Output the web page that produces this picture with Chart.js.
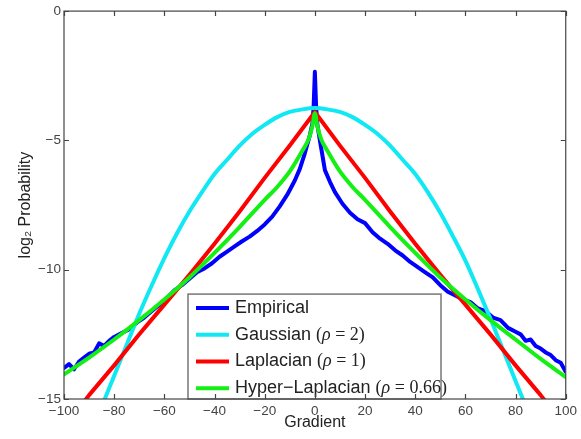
<!DOCTYPE html>
<html>
<head>
<meta charset="utf-8">
<script src="https://cdn.jsdelivr.net/npm/chart.js@4"></script>
<style>
  html, body { margin: 0; padding: 0; background: #fff; }
  #wrap { width: 581px; height: 439px; }
</style>
</head>
<body>
<div id="wrap"><canvas id="chart"></canvas></div>
<script>
// values
const empX = [-100, -98, -96, -94, -92, -90, -88, -86, -84, -82, -80, -77, -74, -71, -68, -65, -62, -59, -56, -53,
  -50, -47, -44, -41, -38, -35, -32, -29, -26, -23, -20, -17, -14, -11, -8, -6, -4, -2, -1, -0.5,
  0, 0.5, 1, 2, 4, 6, 8, 11, 14, 17, 20, 23, 26, 29, 32, 35, 38, 41, 44, 47,
  50, 53, 56, 59, 62, 65, 68, 71, 74, 77, 80, 82, 84, 86, 88, 90, 92, 94, 96, 98, 100];
const empY = [-13.8, -13.65, -13.85, -13.55, -13.4, -13.25, -13.2, -12.85, -12.95, -12.75, -12.6, -12.45, -12.3, -12.05, -11.85, -11.6, -11.35, -11.1, -10.8, -10.6,
  -10.35, -10.1, -9.95, -9.75, -9.5, -9.3, -9.1, -8.9, -8.72, -8.5, -8.25, -7.95, -7.55, -7.1, -6.55, -6.1, -5.5, -4.8, -4.35, -3.7,
  -2.35, -3.7, -4.4, -5.0, -6.15, -6.6, -7.0, -7.45, -7.8, -8.05, -8.2, -8.55, -8.8, -9.0, -9.25, -9.45, -9.7, -9.9, -10.1, -10.3,
  -10.6, -10.85, -11.0, -11.15, -11.25, -11.5, -11.6, -11.85, -11.95, -12.25, -12.4, -12.5, -12.75, -12.7, -12.95, -13.05, -13.2, -13.3, -13.5, -13.6, -13.95];

const gaussX = [-85, -80, -75, -70, -65, -60, -55, -50, -45, -40, -35, -30, -25, -20, -15, -10, -5, 0,
  5, 10, 15, 20, 25, 30, 35, 40, 45, 50, 55, 60, 65, 70, 75, 80, 85];
const gaussY = [-15.3, -14.1, -12.9, -11.7, -10.6, -9.55, -8.6, -7.75, -7.0, -6.3, -5.75, -5.2, -4.75, -4.4, -4.1, -3.9, -3.8, -3.75,
  -3.8, -3.9, -4.1, -4.4, -4.75, -5.2, -5.75, -6.3, -7.0, -7.8, -8.7, -9.65, -10.75, -11.9, -13.1, -14.3, -15.5];

const lapX = [-100, -90, -80, -70, -60, -50, -40, -30, -20, -10, 0, 10, 20, 30, 40, 50, 60, 70, 80, 90, 100];
const lapY = [-16.1, -14.85, -13.7, -12.5, -11.35, -10.2, -9.0, -7.75, -6.45, -5.2, -3.9,
  -5.2, -6.45, -7.75, -9.0, -10.2, -11.35, -12.5, -13.7, -14.85, -16.1];

const hypX = [-100, -90, -80, -70, -60, -50, -40, -30, -20, -15, -10, -5, -2.5, -1, 0,
  1, 2.5, 5, 10, 15, 20, 30, 40, 50, 60, 70, 80, 90, 100];
const hypY = [-14.05, -13.4, -12.7, -11.95, -11.15, -10.3, -9.35, -8.35, -7.3, -6.8, -6.2, -5.4, -4.95, -4.45, -3.95,
  -4.45, -4.95, -5.4, -6.2, -6.8, -7.3, -8.35, -9.35, -10.3, -11.15, -11.95, -12.7, -13.45, -14.15];

const seriesNames = ['Empirical', 'Gaussian', 'Laplacian', 'Hyper\u2212Laplacian'];
const seriesRho = ['', '2', '1', '0.66'];
const seriesColors = ['#0000ff', '#10e8f4', '#ff0000', '#14f014'];

const toPts = (xs, ys) => xs.map((x, i) => ({ x: x, y: ys[i] }));
const minus = v => String(v).replace('-', '\u2212');

// legend box + MATLAB style frame with inward ticks
const framePlugin = {
  id: 'frame',
  afterDatasetsDraw(chart) {
    const { ctx, chartArea: a, scales } = chart;
    ctx.save();

    // legend
    const lx = a.left + 124, ly = a.top + 283, lw = 253, lh = a.bottom - ly;
    ctx.fillStyle = '#fff';
    ctx.fillRect(lx, ly, lw, lh);
    ctx.strokeStyle = '#777';
    ctx.lineWidth = 1.5;
    ctx.strokeRect(lx, ly, lw, lh);
    ctx.textBaseline = 'middle';
    seriesNames.forEach((name, i) => {
      const y = ly + 14 + i * 26.7;
      ctx.strokeStyle = seriesColors[i];
      ctx.lineWidth = 4;
      ctx.beginPath();
      ctx.moveTo(lx + 8, y);
      ctx.lineTo(lx + 41, y);
      ctx.stroke();
      let x = lx + 47;
      ctx.fillStyle = '#222';
      ctx.font = '18px "Liberation Sans", Arial, sans-serif';
      ctx.fillText(name, x, y);
      if (seriesRho[i]) {
        x += ctx.measureText(name + ' ').width;
        ctx.font = '18px "Liberation Serif", "Times New Roman", serif';
        ctx.fillText('(', x, y);
        x += ctx.measureText('(').width;
        ctx.font = 'italic 18px "Liberation Serif", "Times New Roman", serif';
        ctx.fillText('\u03c1', x, y);
        x += ctx.measureText('\u03c1').width;
        ctx.font = '18px "Liberation Serif", "Times New Roman", serif';
        ctx.fillText(' = ' + seriesRho[i] + ')', x, y);
      }
    });

    // frame
    ctx.strokeStyle = '#444';
    ctx.lineWidth = 1.2;
    ctx.strokeRect(a.left, a.top, a.right - a.left, a.bottom - a.top);
    ctx.beginPath();
    scales.x.ticks.forEach(t => {
      const px = Math.round(scales.x.getPixelForValue(t.value)) + 0.5;
      ctx.moveTo(px, a.bottom); ctx.lineTo(px, a.bottom - 5);
      ctx.moveTo(px, a.top); ctx.lineTo(px, a.top + 5);
    });
    scales.y.ticks.forEach(t => {
      const py = Math.round(scales.y.getPixelForValue(t.value)) + 0.5;
      ctx.moveTo(a.left, py); ctx.lineTo(a.left + 5, py);
      ctx.moveTo(a.right, py); ctx.lineTo(a.right - 5, py);
    });
    ctx.stroke();
    ctx.restore();
  }
};

const tickFont = { family: '"Liberation Sans", Arial, sans-serif', size: 13.5 };
const titleFont = { family: '"Liberation Sans", Arial, sans-serif', size: 16 };

new Chart(document.getElementById('chart'), {
  type: 'line',
  data: {
    datasets: [
      { label: seriesNames[0], data: toPts(empX, empY), borderColor: seriesColors[0], borderWidth: 4, tension: 0, order: 3 },
      { label: seriesNames[1], data: toPts(gaussX, gaussY), borderColor: seriesColors[1], borderWidth: 4, cubicInterpolationMode: 'monotone', order: 2 },
      { label: seriesNames[2], data: toPts(lapX, lapY), borderColor: seriesColors[2], borderWidth: 4, tension: 0, order: 1 },
      { label: seriesNames[3], data: toPts(hypX, hypY), borderColor: seriesColors[3], borderWidth: 4, cubicInterpolationMode: 'monotone', order: 0 }
    ]
  },
  options: {
    responsive: true,
    maintainAspectRatio: false,
    animation: false,
    events: [],
    layout: { padding: { left: 0, right: 15, top: 8, bottom: 0 } },
    elements: { point: { radius: 0 }, line: { borderCapStyle: 'round', borderJoinStyle: 'round' } },
    plugins: { legend: { display: false }, tooltip: { enabled: false } },
    scales: {
      x: {
        type: 'linear',
        min: -100,
        max: 100,
        grid: { display: false, drawTicks: false },
        border: { display: false },
        ticks: { stepSize: 20, padding: 4, color: '#444', font: tickFont, maxRotation: 0, callback: v => minus(v) },
        title: { display: true, text: 'Gradient', color: '#222', font: titleFont, padding: { top: 0, bottom: 7 } },
        afterFit: s => { s.height = 40; }
      },
      y: {
        type: 'linear',
        min: -15,
        max: 0,
        grid: { display: false, drawTicks: false },
        border: { display: false },
        ticks: { stepSize: 5, padding: 3, color: '#444', font: tickFont, callback: v => minus(v) },
        title: { display: true, text: 'log\u2082 Probability', color: '#222', font: titleFont, padding: { top: 16, bottom: 0 } },
        afterFit: s => { s.width = 64; }
      }
    }
  },
  plugins: [framePlugin]
});
</script>
</body>
</html>
